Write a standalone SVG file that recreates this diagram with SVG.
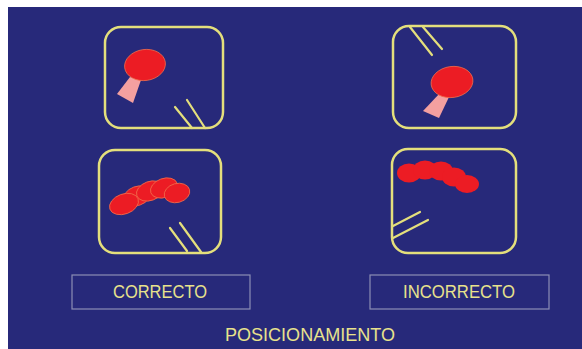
<svg xmlns="http://www.w3.org/2000/svg" width="582" height="349" viewBox="0 0 582 349">
  <style>
    .frame { fill: none; stroke: #e4df7c; stroke-width: 2.5; }
    .stick { stroke: #e4df7c; stroke-width: 2.2; stroke-linecap: round; }
    .head { fill: #ec1c24; stroke: #f06a4a; stroke-width: 0.8; }
    .blob { fill: #ec1c24; }
    .handle { fill: #f4a0a0; }
    .tag { fill: none; stroke: #8c8eb4; stroke-width: 1.2; }
    .label { font-family: "Liberation Sans", Arial, sans-serif; font-size: 18px; fill: #e8e28c; text-anchor: middle; }
  </style>

  <!-- background panel -->
  <rect x="0" y="0" width="582" height="349" fill="#ffffff"/>
  <rect x="8" y="7" width="574" height="342" fill="#27297a"/>

  <!-- correct, top -->
  <g id="correct-top">
    <rect class="frame" x="105" y="27" width="118" height="101" rx="16"/>
    <polygon class="handle" points="130,77 141,80 133,103 117,94"/>
    <ellipse class="head" cx="145" cy="65" rx="20.5" ry="15.5" transform="rotate(-8 145 65)"/>
    <line class="stick" x1="175" y1="107" x2="192" y2="128"/>
    <line class="stick" x1="187" y1="100" x2="205" y2="128"/>
  </g>

  <!-- incorrect, top -->
  <g id="incorrect-top">
    <rect class="frame" x="393" y="26" width="123" height="102" rx="16"/>
    <line class="stick" x1="410" y1="27" x2="432" y2="55"/>
    <line class="stick" x1="423" y1="27" x2="442" y2="49"/>
    <polygon class="handle" points="440,93 449,97 439,118 423,111"/>
    <ellipse class="head" cx="452" cy="82" rx="21" ry="15.5" transform="rotate(-8 452 82)"/>
  </g>

  <!-- correct, bottom -->
  <g id="correct-bottom">
    <rect class="frame" x="99" y="150" width="122" height="103" rx="16"/>
    <ellipse class="head" cx="137" cy="196" rx="14" ry="9.5" transform="rotate(-20 137 196)"/>
    <ellipse class="head" cx="150" cy="191" rx="14" ry="9.5" transform="rotate(-20 150 191)"/>
    <ellipse class="head" cx="124" cy="204" rx="15" ry="10" transform="rotate(-20 124 204)"/>
    <ellipse class="head" cx="164" cy="188" rx="14" ry="9.5" transform="rotate(-20 164 188)"/>
    <ellipse class="head" cx="177" cy="193" rx="13" ry="9.5" transform="rotate(-15 177 193)"/>
    <line class="stick" x1="170" y1="228" x2="187" y2="251"/>
    <line class="stick" x1="180" y1="223" x2="201" y2="252"/>
  </g>

  <!-- incorrect, bottom -->
  <g id="incorrect-bottom">
    <rect class="frame" x="392" y="149" width="124" height="104" rx="16"/>
    <ellipse class="blob" cx="409" cy="173" rx="12" ry="9.5"/>
    <ellipse class="blob" cx="425" cy="170" rx="12" ry="9.5"/>
    <ellipse class="blob" cx="441" cy="171" rx="12" ry="9.5"/>
    <ellipse class="blob" cx="454" cy="177" rx="12" ry="9.5"/>
    <ellipse class="blob" cx="467" cy="184" rx="12" ry="9"/>
    <line class="stick" x1="393" y1="226" x2="420" y2="212"/>
    <line class="stick" x1="393" y1="238" x2="428" y2="220"/>
  </g>

  <!-- captions -->
  <g id="caption-correct">
    <rect class="tag" x="72" y="275" width="178" height="34"/>
    <text class="label" x="160" y="298" textLength="94" lengthAdjust="spacingAndGlyphs">CORRECTO</text>
  </g>
  <g id="caption-incorrect">
    <rect class="tag" x="370" y="275" width="179" height="34"/>
    <text class="label" x="459" y="298" textLength="112" lengthAdjust="spacingAndGlyphs">INCORRECTO</text>
  </g>
  <g id="title">
    <text class="label" x="310" y="341" textLength="170" lengthAdjust="spacingAndGlyphs">POSICIONAMIENTO</text>
  </g>
</svg>
